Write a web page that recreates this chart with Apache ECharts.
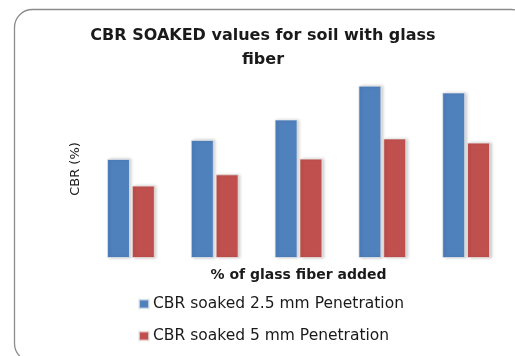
<!DOCTYPE html>
<html><head><meta charset="utf-8">
<script src="https://cdn.jsdelivr.net/npm/echarts@6/dist/echarts.min.js"></script>
<style>html,body{margin:0;padding:0;background:#fff}#c{width:515px;height:356px}</style>
</head><body><div id="c"></div>
<script>
const categories = ['0%', '0.25%', '0.5%', '0.75%', '1%'];
const seriesNames = ['CBR soaked 2.5 mm Penetration', 'CBR soaked 5 mm Penetration'];
const cbr25 = [3.34, 3.98, 4.67, 5.81, 5.58];
const cbr5 = [2.44, 2.82, 3.35, 4.03, 3.89];

const chart = echarts.init(document.getElementById('c'), null, {renderer: 'canvas'});
const barStyle = (color) => ({
  color: color,
  borderColor: 'rgba(235,235,235,0.7)',
  borderWidth: 1,
  shadowColor: 'rgba(0,0,0,0.2)',
  shadowBlur: 3,
  shadowOffsetX: 2,
  shadowOffsetY: 0
});
chart.setOption({
  animation: false,
  backgroundColor: '#fff',
  graphic: [{
    type: 'rect', left: 12, top: 7,
    shape: {x: 0, y: 0, width: 515, height: 352, r: 18},
    style: {fill: 'none', stroke: '#8c8c8c', lineWidth: 1.3},
    silent: true
  }],
  title: {
    text: 'CBR SOAKED values for soil with glass\nfiber',
    left: 258, top: 19, textAlign: 'center',
    textStyle: {fontFamily: 'DejaVu Sans', fontWeight: 'bold', fontSize: 16, color: '#1a1a1a', lineHeight: 24}
  },
  legend: {
    orient: 'vertical', left: 133, top: 291, itemGap: 16,
    itemWidth: 10, itemHeight: 9, icon: 'rect',
    textStyle: {fontFamily: 'DejaVu Sans', fontSize: 15.5, color: '#1a1a1a', padding: [0,0,0,-1]},
    data: seriesNames
  },
  grid: {left: 89, right: 7, top: 80, bottom: 98},
  xAxis: {
    type: 'category', data: categories,
    name: '% of glass fiber added', nameLocation: 'middle', nameGap: 10,
    nameTextStyle: {fontFamily: 'DejaVu Sans', fontSize: 14, fontWeight: 'bold', color: '#1a1a1a'},
    axisLine: {show: false}, axisTick: {show: false}, axisLabel: {show: false}
  },
  yAxis: {
    type: 'value', min: 0, max: 6,
    name: 'CBR (%)', nameLocation: 'middle', nameGap: 7, nameRotate: 90,
    nameTextStyle: {fontFamily: 'DejaVu Sans', fontSize: 13, color: '#1a1a1a'},
    axisLine: {show: false}, axisTick: {show: false}, axisLabel: {show: false}, splitLine: {show: false}
  },
  series: [
    {name: seriesNames[0], type: 'bar', data: cbr25, barWidth: 23, barGap: '8%', itemStyle: barStyle('#4F81BD')},
    {name: seriesNames[1], type: 'bar', data: cbr5, barWidth: 23, itemStyle: barStyle('#C0504D')}
  ]
});
</script></body></html>
